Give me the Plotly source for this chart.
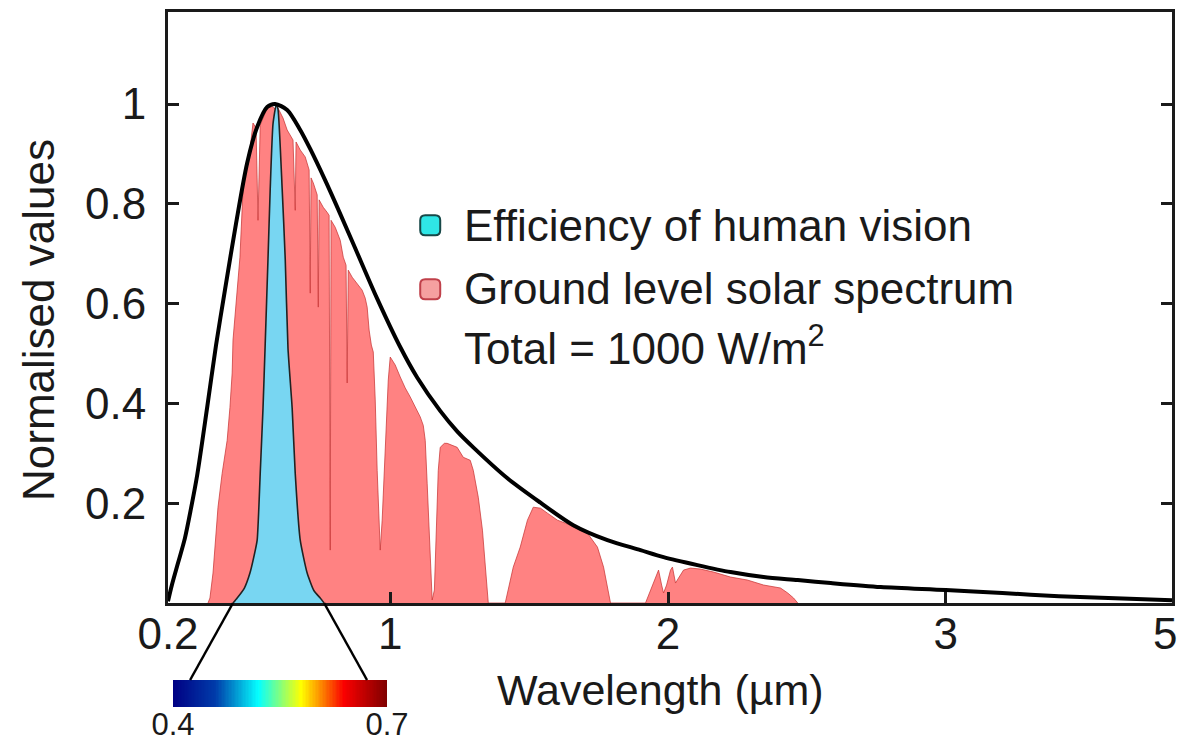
import numpy as np
import plotly.graph_objects as go

# ---- data (wavelength in µm, values normalised to 1) ----
envelope_wl = [0.20, 0.214, 0.236, 0.261, 0.283, 0.305, 0.341, 0.373, 0.405, 0.445,
               0.485, 0.521, 0.557, 0.586, 0.629, 0.676, 0.712, 0.766, 0.820, 0.874,
               0.953, 1.036, 1.097, 1.180, 1.241, 1.299, 1.422, 1.541, 1.659, 1.782,
               1.901, 1.984, 2.106, 2.225, 2.344, 2.467, 2.586, 2.766, 3.0, 3.5,
               4.0, 4.5, 5.0]
envelope_val = [0.0035, 0.036, 0.080, 0.130, 0.190, 0.256, 0.392, 0.517, 0.627, 0.761,
                0.882, 0.954, 0.994, 1.0, 0.988, 0.948, 0.910, 0.847, 0.780, 0.711,
                0.610, 0.513, 0.452, 0.385, 0.344, 0.312, 0.250, 0.201, 0.156, 0.126,
                0.106, 0.092, 0.076, 0.062, 0.052, 0.046, 0.040, 0.032, 0.026, 0.020,
                0.0135, 0.0095, 0.0055]

vision_wl = [0.434, 0.449, 0.475, 0.495, 0.510, 0.521, 0.527, 0.532, 0.542, 0.550,
             0.560, 0.568, 0.578, 0.590, 0.596, 0.611, 0.622, 0.632, 0.647, 0.658,
             0.676, 0.701, 0.725, 0.748, 0.762]
vision_val = [0.0, 0.01, 0.03, 0.06, 0.095, 0.126, 0.19, 0.26, 0.39, 0.52,
              0.69, 0.83, 0.96, 1.0, 0.99, 0.83, 0.69, 0.51, 0.39, 0.26,
              0.126, 0.06, 0.025, 0.01, 0.0]

solar_wl = [0.344, 0.351, 0.362, 0.380, 0.395, 0.413, 0.423, 0.431, 0.434, 0.445,
            0.459, 0.470, 0.481, 0.495, 0.506, 0.517, 0.524, 0.532, 0.557, 0.575,
            0.586, 0.596, 0.614, 0.629, 0.650, 0.658, 0.661, 0.676, 0.694, 0.708,
            0.712, 0.715, 0.723, 0.737, 0.741, 0.744, 0.759, 0.773, 0.780, 0.784,
            0.787, 0.802, 0.820, 0.831, 0.841, 0.845, 0.849, 0.863, 0.885, 0.899,
            0.910, 0.917, 0.924, 0.932, 0.939, 0.946, 0.953, 0.960, 0.964, 0.971,
            0.978, 0.986, 0.993, 1.000, 1.018, 1.036, 1.054, 1.072, 1.083, 1.097,
            1.108, 1.119, 1.126, 1.133, 1.141, 1.148, 1.151, 1.159, 1.166, 1.173,
            1.180, 1.195, 1.205, 1.223, 1.241, 1.263, 1.288, 1.299, 1.317, 1.332,
            1.342, 1.350, 1.353, 1.414, 1.422, 1.443, 1.468, 1.494, 1.515, 1.541,
            1.566, 1.602, 1.631, 1.659, 1.685, 1.710, 1.728, 1.746, 1.768, 1.778,
            1.786, 1.793, 1.919, 1.926, 1.944, 1.966, 1.977, 1.984, 1.995, 2.009,
            2.016, 2.027, 2.038, 2.056, 2.081, 2.117, 2.164, 2.225, 2.286, 2.344,
            2.405, 2.431, 2.452, 2.467]
solar_val = [0.0, 0.010, 0.060, 0.192, 0.260, 0.326, 0.392, 0.461, 0.527, 0.607,
             0.693, 0.828, 0.878, 0.908, 0.962, 0.952, 0.767, 0.958, 0.992, 0.995,
             0.990, 0.992, 0.972, 0.948, 0.928, 0.787, 0.924, 0.908, 0.894, 0.868,
             0.621, 0.852, 0.842, 0.818, 0.593, 0.808, 0.793, 0.783, 0.777, 0.106,
             0.767, 0.753, 0.727, 0.693, 0.677, 0.441, 0.667, 0.653, 0.637, 0.627,
             0.611, 0.593, 0.547, 0.517, 0.503, 0.407, 0.266, 0.146, 0.106, 0.166,
             0.266, 0.366, 0.447, 0.493, 0.477, 0.453, 0.431, 0.413, 0.401, 0.383,
             0.373, 0.356, 0.326, 0.240, 0.126, 0.026, 0.006, 0.026, 0.166, 0.266,
             0.312, 0.320, 0.320, 0.316, 0.312, 0.292, 0.286, 0.266, 0.212, 0.146,
             0.080, 0.012, 0.0, 0.0, 0.020, 0.072, 0.112, 0.166, 0.192, 0.190,
             0.180, 0.166, 0.160, 0.152, 0.146, 0.140, 0.126, 0.112, 0.072, 0.040,
             0.020, 0.0, 0.0, 0.010, 0.036, 0.066, 0.036, 0.020, 0.036, 0.066,
             0.072, 0.040, 0.050, 0.066, 0.070, 0.068, 0.062, 0.052, 0.046, 0.036,
             0.030, 0.020, 0.010, 0.0]

x_tick_wl = [0.2, 1, 2, 3, 5]
x_tick_text = ["0.2", "1", "2", "3", "5"]
y_tick_vals = [0.2, 0.4, 0.6, 0.8, 1.0]
y_tick_text = ["0.2", "0.4", "0.6", "0.8", "1"]
visible_range = [0.4, 0.7]
bar_connect_wl = [0.424, 0.672]   # where the connector lines meet the colour bar

# ---- axis: linear up to 3 µm, compressed from 3 to 5 µm ----
TAIL_SCALE = 0.4072


def axis_pos(wl):
    wl = np.asarray(wl, dtype=float)
    return np.where(wl <= 3.0, wl, 3.0 + (wl - 3.0) * TAIL_SCALE)


X_MIN = 0.2
X_MAX = float(axis_pos(5.0))
Y_MAX = 1.1845

W, H = 1181, 741
M_L, M_R, M_T, M_B = 168, 9, 12, 10
PLOT_W = W - M_L - M_R
PLOT_H = H - M_T - M_B
MAIN_BOTTOM = 1 - 591 / PLOT_H          # paper y of the main x axis
BAR_X = [(173 - M_L) / PLOT_W, (387 - M_L) / PLOT_W]
BAR_Y = [(H - M_B - 707) / PLOT_H, (H - M_B - 680) / PLOT_H]
X_LABEL_Y = (H - M_B - 633) / PLOT_H    # paper y of the x tick-label row

FONT = "Liberation Sans, Arial, sans-serif"
INK = "#1a1a1a"
FS = 44

fig = go.Figure()

fig.add_trace(go.Scatter(
    x=axis_pos(solar_wl), y=solar_val, mode="lines", fill="tozeroy",
    fillcolor="#FF8282", line=dict(color="rgba(200,55,55,0.75)", width=1),
    hoverinfo="skip", showlegend=False))

fig.add_trace(go.Scatter(
    x=axis_pos(vision_wl), y=vision_val, mode="lines", fill="tozeroy",
    fillcolor="#78D6F2", line=dict(color="#222", width=1.6, shape="spline", smoothing=0.5),
    hoverinfo="skip", showlegend=False))

fig.add_trace(go.Scatter(
    x=axis_pos(envelope_wl), y=envelope_val, mode="lines",
    line=dict(color="black", width=4, shape="spline", smoothing=0.8),
    hoverinfo="skip", showlegend=False))

# colour bar of the visible range
bar_x = np.linspace(visible_range[0], visible_range[1], 151)
fig.add_trace(go.Heatmap(
    x=bar_x, y=[0.5], z=[bar_x], colorscale="Jet", showscale=False,
    xaxis="x2", yaxis="y2", hoverinfo="skip"))

axis_common = dict(showgrid=False, zeroline=False, showline=True, linewidth=3,
                   linecolor=INK, ticks="inside", ticklen=11, tickwidth=3,
                   tickcolor=INK, automargin=False,
                   tickfont=dict(family=FONT, size=FS, color=INK))

# the last x label sits on the right frame edge (which is also its tick),
# so it is placed as an annotation instead of an axis tick label
fig.update_layout(
    width=W, height=H,
    margin=dict(l=M_L, r=M_R, t=M_T, b=M_B, autoexpand=False),
    paper_bgcolor="white", plot_bgcolor="white",
    xaxis=dict(domain=[0, 1], range=[X_MIN, X_MAX + 1e-6], anchor="y",
               tickvals=list(axis_pos(x_tick_wl[:-1])), ticktext=x_tick_text[:-1],
               mirror=True, ticklabelstandoff=-10, **axis_common),
    yaxis=dict(domain=[MAIN_BOTTOM, 1], range=[0, Y_MAX], anchor="x",
               tickvals=y_tick_vals, ticktext=y_tick_text,
               mirror="ticks", ticklabelstandoff=10, **axis_common),
    xaxis2=dict(domain=BAR_X, range=visible_range, anchor="y2",
                tickvals=visible_range, ticktext=["0.4", "0.7"], ticks="",
                showline=False, showgrid=False, zeroline=False, automargin=False,
                ticklabeloverflow="allow",
                tickfont=dict(family=FONT, size=31, color=INK), ticklabelstandoff=-4),
    yaxis2=dict(domain=BAR_Y, range=[0, 1], anchor="x2", visible=False),
)

fig.add_annotation(x=float(axis_pos(x_tick_wl[-1])), y=X_LABEL_Y, xref="x", yref="paper",
                   text=x_tick_text[-1], showarrow=False, xanchor="right",
                   yanchor="middle", xshift=7,
                   font=dict(family=FONT, size=FS, color=INK))


def main_to_paper(u):
    return (u - X_MIN) / (X_MAX - X_MIN)


def bar_to_paper(wl):
    return BAR_X[0] + (wl - visible_range[0]) / (visible_range[1] - visible_range[0]) * (BAR_X[1] - BAR_X[0])


# connector lines from the vision curve down to the colour bar
for start_wl, end_wl in zip([vision_wl[0], vision_wl[-1]], bar_connect_wl):
    fig.add_shape(type="line", xref="paper", yref="paper",
                  x0=main_to_paper(float(axis_pos(start_wl))), y0=MAIN_BOTTOM,
                  x1=bar_to_paper(end_wl), y1=BAR_Y[1],
                  line=dict(color="black", width=2.5))

# legend key swatches
ROUNDED = ("M -10,-5 Q -10,-10 -5,-10 L 5,-10 Q 10,-10 10,-5 L 10,5 "
           "Q 10,10 5,10 L -5,10 Q -10,10 -10,5 Z")
for yv, fill, edge in [(0.757, "#2FE6E6", "#174848"), (0.629, "#F5A0A0", "#C0404A")]:
    fig.add_shape(type="path", path=ROUNDED, xref="x", yref="y",
                  xsizemode="pixel", ysizemode="pixel", xanchor=1.144, yanchor=yv,
                  fillcolor=fill, line=dict(color=edge, width=2))

legend_lines = [("Efficiency of human vision", 0.756),
                ("Ground level solar spectrum", 0.630),
                ("Total = 1000 W/m<sup>2</sup>", 0.517)]
for txt, yv in legend_lines:
    fig.add_annotation(x=1.260, y=yv, xref="x", yref="y", text=txt, showarrow=False,
                       xanchor="left", yanchor="middle",
                       font=dict(family=FONT, size=FS, color=INK))

fig.add_annotation(x=(660 - M_L) / PLOT_W, y=(H - M_B - 690) / PLOT_H,
                   xref="paper", yref="paper", text="Wavelength (µm)", showarrow=False,
                   xanchor="center", yanchor="middle",
                   font=dict(family=FONT, size=43, color=INK))
fig.add_annotation(x=(38 - M_L) / PLOT_W, y=(H - M_B - 320) / PLOT_H,
                   xref="paper", yref="paper", text="Normalised values", showarrow=False,
                   textangle=-90, xanchor="center", yanchor="middle",
                   font=dict(family=FONT, size=FS, color=INK))

fig.write_html("out.html")
